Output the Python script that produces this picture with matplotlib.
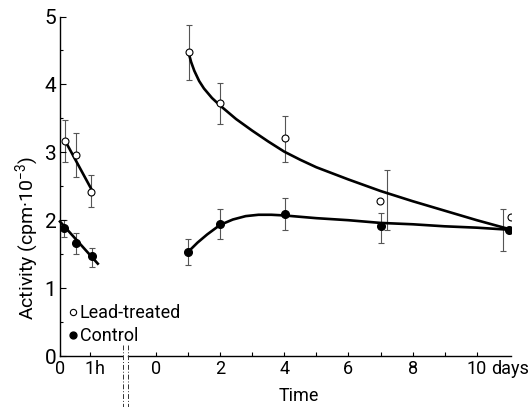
import matplotlib
matplotlib.use('Agg')
import matplotlib.pyplot as plt
from matplotlib.lines import Line2D
from matplotlib.ticker import FixedLocator

plt.rcParams['font.family'] = ['Roboto', 'DejaVu Sans']
plt.rcParams['mathtext.default'] = 'regular'

# first hour (x in hours)
lead_hr = [0.17, 0.52, 1.03]
lead_hr_val = [3.16, 2.96, 2.42]
lead_hr_lo = [2.86, 2.63, 2.20]
lead_hr_hi = [3.48, 3.28, 2.66]
ctrl_hr = [0.14, 0.53, 1.05]
ctrl_hr_val = [1.89, 1.66, 1.47]
ctrl_hr_lo = [1.75, 1.50, 1.31]
ctrl_hr_hi = [2.01, 1.81, 1.59]
lead_fit_hr = [0.17, 1.03]
lead_fit_val = [3.17, 2.47]
ctrl_fit_hr = [0.0, 1.26]
ctrl_fit_val = [1.98, 1.36]

# days
lead_day = [1.02, 2.0, 4.02, 6.98, 11.06]
lead_day_val = [4.47, 3.72, 3.21, 2.29, 2.05]
lead_err_day = [1.02, 2.0, 4.02, 7.21, 11.24]
lead_day_lo = [4.06, 3.41, 2.86, 1.85, 1.83]
lead_day_hi = [4.87, 4.02, 3.53, 2.74, 2.25]
ctrl_day = [1.0, 2.0, 4.02, 7.0, 11.01]
ctrl_day_val = [1.53, 1.94, 2.09, 1.91, 1.86]
ctrl_err_day = [1.0, 2.0, 4.02, 7.0, 10.81]
ctrl_day_lo = [1.34, 1.73, 1.86, 1.67, 1.55]
ctrl_day_hi = [1.72, 2.16, 2.33, 2.11, 2.17]

lead_curve_day = [1.02, 1.1, 1.2, 1.35, 1.5, 1.75, 2.0, 2.5, 3.0, 3.5, 4.0, 4.5, 5.0, 5.5, 6.0,
                  7.0, 8.0, 9.0, 10.0, 11.0]
lead_curve_val = [4.47, 4.33, 4.20, 4.05, 3.94, 3.80, 3.69, 3.49, 3.32, 3.16, 3.01, 2.89, 2.78,
                  2.69, 2.60, 2.43, 2.28, 2.14, 2.00, 1.87]
ctrl_curve_day = [1.0, 1.3, 1.6, 2.0, 2.4, 2.8, 3.2, 3.6, 4.0, 5.0, 6.0, 7.0, 8.0, 9.0, 10.0, 11.0]
ctrl_curve_val = [1.53, 1.67, 1.79, 1.93, 2.01, 2.06, 2.08, 2.08, 2.07, 2.03, 2.00, 1.96, 1.94,
                  1.91, 1.89, 1.86]

W, H = 530, 407
fig = plt.figure(figsize=(W / 100, H / 100), dpi=100)
ax1 = fig.add_axes([60 / W, 51 / H, 62 / W, 339.5 / H])
ax2 = fig.add_axes([128.3 / W, 51 / H, 382.7 / W, 339.5 / H])

ebar = dict(fmt='none', ecolor='#555555', elinewidth=0.8, capsize=2.2, capthick=0.8, zorder=1)
open_m = dict(ls='none', marker='o', ms=5, mfc='white', mec='black', mew=0.8, zorder=4)
fill_m = dict(ls='none', marker='o', ms=5.5, mfc='black', mec='black', zorder=4)


def err(vals, lo, hi):
    return [[v - l for v, l in zip(vals, lo)], [h - v for v, h in zip(vals, hi)]]


# left panel (hours)
ax1.errorbar(lead_hr, lead_hr_val, yerr=err(lead_hr_val, lead_hr_lo, lead_hr_hi), **ebar)
ax1.errorbar(ctrl_hr, ctrl_hr_val, yerr=err(ctrl_hr_val, ctrl_hr_lo, ctrl_hr_hi), **ebar)
ax1.plot(lead_fit_hr, lead_fit_val, color='black', lw=1.9, zorder=3)
ax1.plot(ctrl_fit_hr, ctrl_fit_val, color='black', lw=1.9, zorder=3, clip_on=False)
ax1.plot(lead_hr, lead_hr_val, **open_m)
ax1.plot(ctrl_hr, ctrl_hr_val, **fill_m)

# right panel (days)
ax2.errorbar(lead_err_day, lead_day_val, yerr=err(lead_day_val, lead_day_lo, lead_day_hi), **ebar)
ax2.errorbar(ctrl_err_day, ctrl_day_val, yerr=err(ctrl_day_val, ctrl_day_lo, ctrl_day_hi), **ebar)
ax2.plot(lead_curve_day, lead_curve_val, color='black', lw=1.9, zorder=3, solid_joinstyle='round')
ax2.plot(ctrl_curve_day, ctrl_curve_val, color='black', lw=1.9, zorder=3, solid_joinstyle='round')
ax2.plot(lead_day, lead_day_val, **open_m)
ax2.plot(ctrl_day, ctrl_day_val, **fill_m)

for ax in (ax1, ax2):
    ax.set_ylim(0, 5)
    ax.spines['top'].set_visible(False)
    ax.spines['right'].set_visible(False)
    ax.spines['bottom'].set_linewidth(1.0)
    ax.tick_params(axis='x', direction='in', length=3, width=0.8, labelsize=13, pad=3)
    ax.tick_params(axis='x', which='minor', direction='in', length=3, width=0.8)

ax1.set_xlim(0, 62 / 30)
ax1.spines['left'].set_linewidth(1.0)
ax1.set_yticks([0, 1, 2, 3, 4, 5])
ax1.yaxis.set_minor_locator(FixedLocator([0.5, 1.5, 2.5, 3.5, 4.5]))
ax1.tick_params(axis='y', direction='in', length=4.5, width=0.8, labelsize=15, pad=2.5)
ax1.tick_params(axis='y', which='minor', direction='in', length=2.5, width=0.8)
ax1.set_xticks([0, 1])
ax1.set_xticklabels(['0', '1'])
ax1.annotate('h', xy=(1.17, 0), xycoords=ax1.get_xaxis_transform(), xytext=(0, -3),
             textcoords='offset points', fontsize=13, ha='left', va='top')

ax2.set_xlim((128.3 - 155.8) / 32.1, (511 - 155.8) / 32.1)
ax2.spines['left'].set_visible(False)
ax2.set_yticks([])
ax2.set_xticks([0, 2, 4, 6, 8, 10])
ax2.set_xticklabels(['0', '2', '4', '6', '8', '10'])
ax2.xaxis.set_minor_locator(FixedLocator([1, 3, 5, 7, 9]))
ax2.annotate('days', xy=(10.46, 0), xycoords=ax2.get_xaxis_transform(), xytext=(0, -3),
             textcoords='offset points', fontsize=13, ha='left', va='top')

# broken-axis marks
for xp in (122.7, 128.3):
    fig.add_artist(Line2D([xp / W, xp / W], [1 - 345 / H, 0], transform=fig.transFigure,
                          color='#333333', lw=0.7, ls=(0, (5, 2, 1, 2))))

handles = [Line2D([], [], **open_m), Line2D([], [], **fill_m)]
fig.legend(handles, ['Lead-treated', 'Control'], loc='upper left',
           bbox_to_anchor=(69 / W, 1 - 304 / H), frameon=False, fontsize=13,
           handlelength=0.4, handletextpad=0.2, labelspacing=0.3, borderpad=0,
           borderaxespad=0, markerscale=0.9)

fig.text(27 / W, 1 - 237.5 / H, 'Activity (cpm·10$^{-3}$)', rotation=90,
         ha='center', va='center', fontsize=14)
fig.text(299 / W, 1 - 396 / H, 'Time', ha='center', va='center', fontsize=13)

fig.savefig('out.png', dpi=100)
